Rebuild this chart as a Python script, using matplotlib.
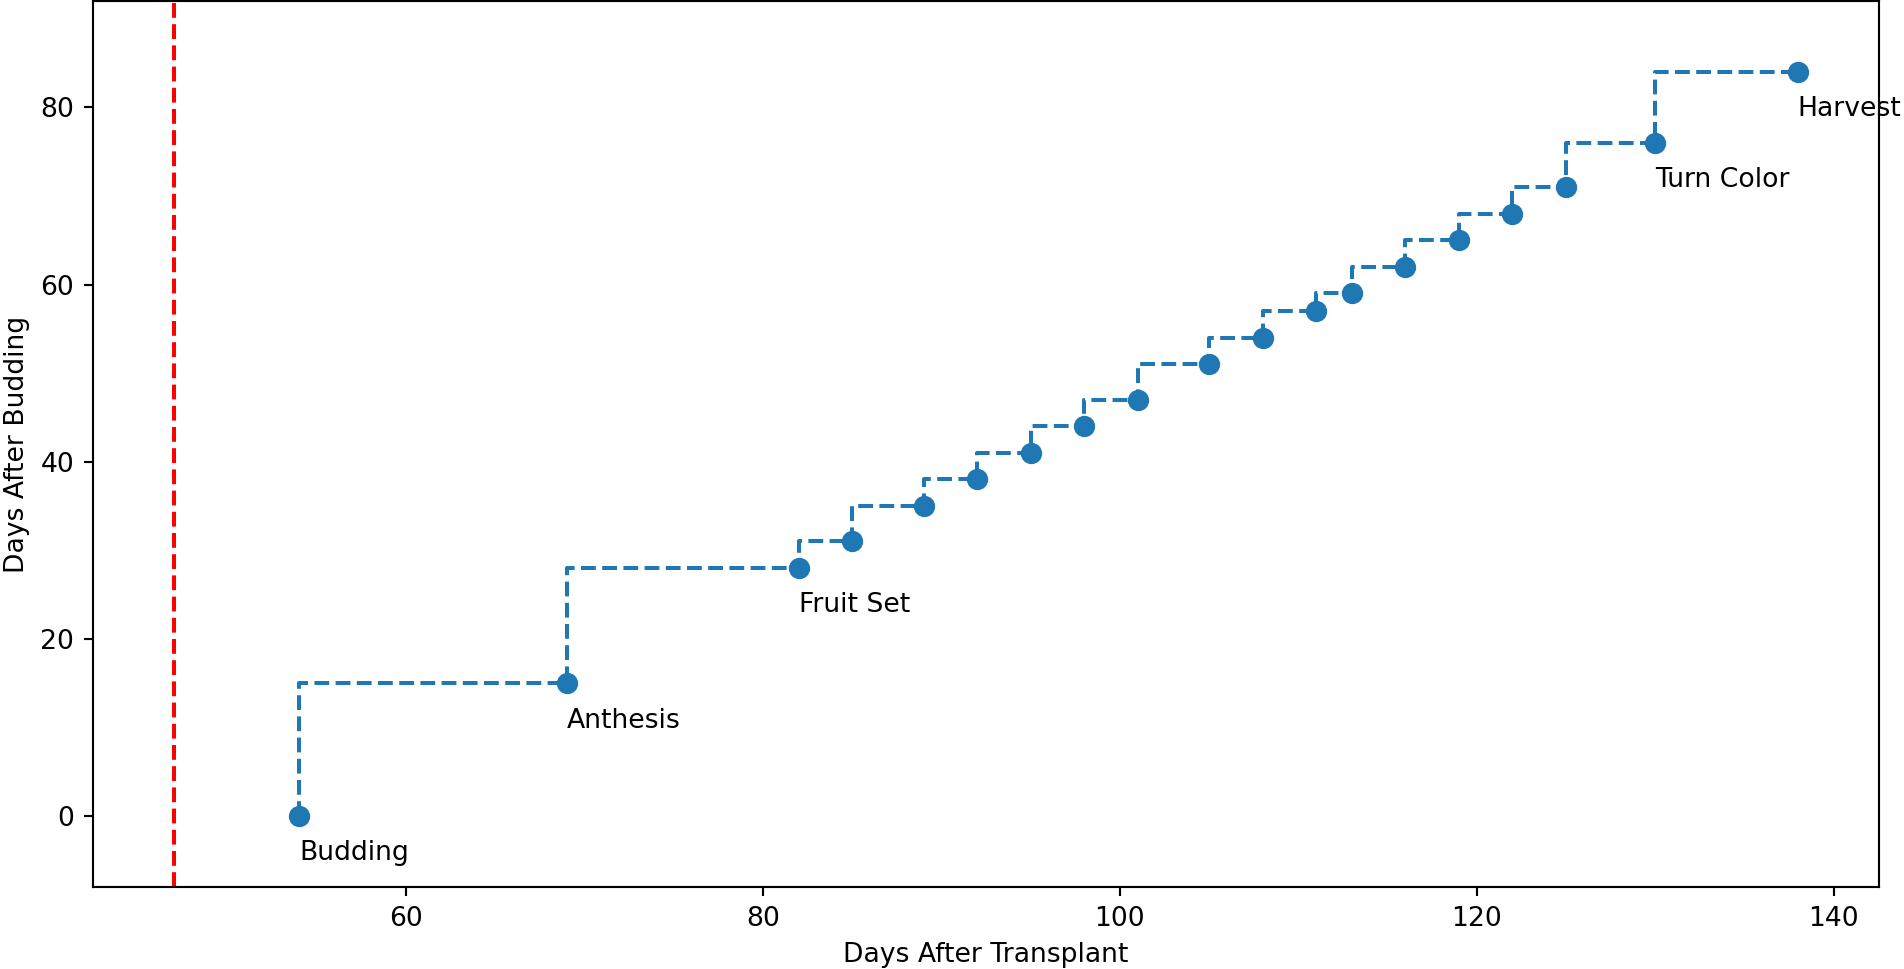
import matplotlib
matplotlib.use("Agg")
import matplotlib.pyplot as plt

# days after transplant / days after budding
dat = [54, 69, 82, 85, 89, 92, 95, 98, 101, 105, 108, 111, 113, 116, 119, 122, 125, 130, 138]
dab = [0, 15, 28, 31, 35, 38, 41, 44, 47, 51, 54, 57, 59, 62, 65, 68, 71, 76, 84]

# labelled stages
stage_names = ['Budding', 'Anthesis', 'Fruit Set', 'Turn Color', 'Harvest']
stage_dat = [54, 69, 82, 130, 138]
stage_dab = [0, 15, 28, 76, 84]

transplant_ref = 47

DPI = 192
fig = plt.figure(figsize=(1904 / DPI, 969 / DPI), dpi=DPI)
ax = fig.add_axes([0.0488, 0.0846, 0.9381, 0.9144])

ax.plot(dat, dab, 'o--', drawstyle='steps-pre', color='C0', markersize=7)
ax.axvline(transplant_ref, color='red', linestyle='--')

for name, x, y in zip(stage_names, stage_dat, stage_dab):
    ax.text(x, y - 5, name, fontsize=10)

ax.set_ylim(-8, 92)
ax.set_xticks([60, 80, 100, 120, 140])
ax.set_yticks([0, 20, 40, 60, 80])
ax.set_xlabel('Days After Transplant')
ax.set_ylabel('Days After Budding')

fig.savefig('out.png', dpi=DPI)
